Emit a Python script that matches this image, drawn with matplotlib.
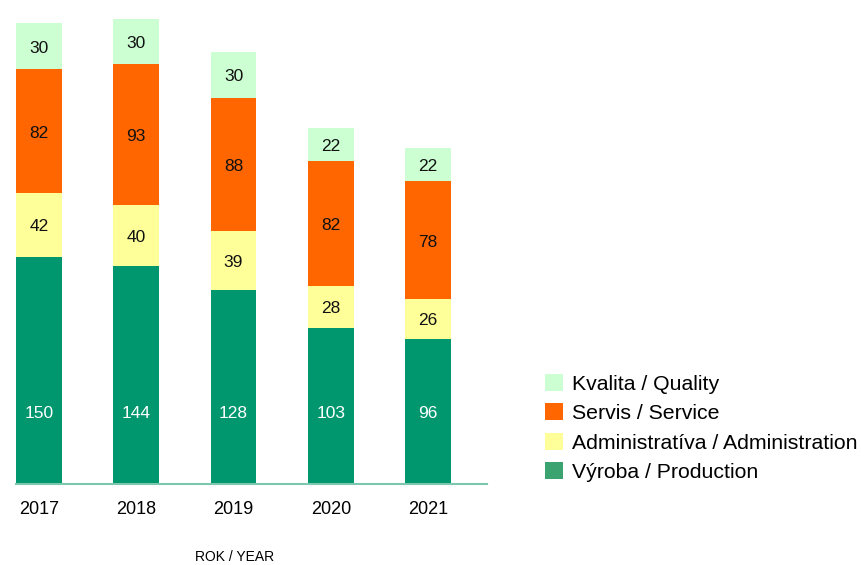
import matplotlib
matplotlib.use("Agg")
import matplotlib.pyplot as plt
from matplotlib.patches import Patch
from matplotlib.transforms import blended_transform_factory, offset_copy
import numpy as np

plt.rcParams['font.family'] = ['Liberation Sans', 'DejaVu Sans']

years = ["2017", "2018", "2019", "2020", "2021"]
vyroba = [150, 144, 128, 103, 96]
administrativa = [42, 40, 39, 28, 26]
servis = [82, 93, 88, 82, 78]
kvalita = [30, 30, 30, 22, 22]

series = [
    ("Výroba / Production", vyroba, "#00966E", "white", "#3BA36F"),
    ("Administratíva / Administration", administrativa, "#FFFF99", "#111111", "#FFFF99"),
    ("Servis / Service", servis, "#FF6600", "#111111", "#FF6600"),
    ("Kvalita / Quality", kvalita, "#CCFFD2", "#111111", "#CCFFD2"),
]

fig = plt.figure(figsize=(8.62, 5.65), dpi=100)
W, H = 862, 565
ax = fig.add_axes([16 / W, (H - 484) / H, (487 - 16) / W, 484 / H])

x = np.arange(len(years))
bottom = np.zeros(len(years))
shifted = offset_copy(ax.transData, fig=fig, y=-2, units="dots")
blend = blended_transform_factory(ax.transData, ax.transAxes)
for i, (name, vals, col, tcol, lcol) in enumerate(series):
    vals = np.array(vals, dtype=float)
    ax.bar(x, vals, width=0.47, bottom=bottom, color=col, linewidth=0)
    for xi, b, v in zip(x, bottom, vals):
        if i == 0:
            ax.text(xi, 0.145, f"{int(v)}", ha="center", va="center",
                    fontsize=12.5, color=tcol, transform=blend)
        else:
            ax.text(xi, b + v / 2, f"{int(v)}", ha="center", va="center",
                    fontsize=12.5, color=tcol, transform=shifted)
    bottom += vals

ax.set_xlim(-0.235, 4.605)
ax.set_ylim(0, 484 / 1.515)
for s in ["top", "right", "left"]:
    ax.spines[s].set_visible(False)
ax.spines["bottom"].set_color("#7CC8AE")
ax.spines["bottom"].set_linewidth(1.5)
ax.set_yticks([])
ax.set_xticks(x)
ax.set_xticklabels(years, fontsize=13)
ax.tick_params(axis="x", length=0, pad=12)

fig.text(235 / W, 1 - 557 / H, "ROK / YEAR", ha="center", va="center", fontsize=10)

handles = [Patch(facecolor=s[4], edgecolor="none", label=s[0]) for s in series[::-1]]
fig.legend(handles=handles, loc="upper left", bbox_to_anchor=(545 / W, 1 - 374 / H),
           frameon=False, fontsize=15.3, handlelength=0.85, handleheight=0.85,
           handletextpad=0.42, labelspacing=0.45, borderpad=0, borderaxespad=0)

fig.savefig("out.png", dpi=100)
